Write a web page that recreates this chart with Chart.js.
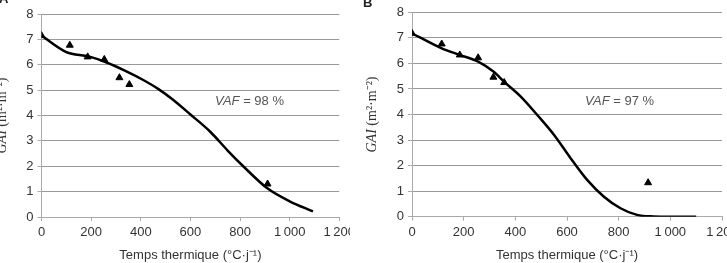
<!DOCTYPE html>
<html>
<head>
<meta charset="utf-8">
<script src="https://cdn.jsdelivr.net/npm/chart.js@4"></script>
<style>
  html, body { margin: 0; padding: 0; background: #fff; }
  body { width: 727px; height: 263px; position: relative; overflow: hidden; }
  canvas { position: absolute; top: 0; }
  #chart-a { left: 0; }
  #chart-b { left: 350px; }
</style>
</head>
<body>
<canvas id="chart-a" width="350" height="263"></canvas>
<canvas id="chart-b" width="377" height="263"></canvas>
<script>
// Panel A - observed GAI and fitted curve
const obsTimeA = [0, 114, 186, 253, 314, 354, 911];
const obsGaiA = [7.15, 6.77, 6.31, 6.21, 5.49, 5.22, 1.30];
const fitTimeA = [0, 100, 190, 260, 340, 410, 470, 530, 600, 680, 750, 815, 910, 1000, 1094];
const fitGaiA = [7.15, 6.5, 6.33, 6.1, 5.75, 5.4, 5.05, 4.62, 4.04, 3.36, 2.62, 1.98, 1.13, 0.62, 0.22];

// Panel B
const obsTimeB = [0, 115, 185, 256, 315, 357, 914];
const obsGaiB = [7.18, 6.76, 6.33, 6.22, 5.46, 5.25, 1.33];
const fitTimeB = [0, 115, 185, 256, 315, 357, 421, 485, 550, 614, 678, 743, 807, 871, 935, 1000, 1100];
const fitGaiB = [7.18, 6.59, 6.33, 6.07, 5.68, 5.28, 4.70, 3.98, 3.20, 2.29, 1.44, 0.78, 0.33, 0.07, 0.01, 0, 0];

const xTicks = [0, 200, 400, 600, 800, 1000, 1200];
const yTicks = [0, 1, 2, 3, 4, 5, 6, 7, 8];

const SANS = "'Liberation Sans', Arial, sans-serif";
const SERIF = "'Liberation Serif', 'Times New Roman', serif";

function toPoints(xs, ys) {
  return xs.map((x, i) => ({ x: x, y: ys[i] }));
}

// draws the y title, the VAF note and the panel letter
const extras = {
  id: 'extras',
  afterDraw(chart, args, opts) {
    const ctx = chart.ctx;
    const area = chart.chartArea;
    const xs = chart.scales.x, ys = chart.scales.y;
    ctx.save();
    ctx.fillStyle = '#333';

    // y axis title, rotated
    ctx.translate(area.left - 39.5, (area.top + area.bottom) / 2);
    ctx.rotate(-Math.PI / 2);
    ctx.textBaseline = 'middle';
    const p1 = 'GAI', p2 = ' (m²·m⁻²)';
    ctx.font = 'italic 14px ' + SERIF;
    const w1 = ctx.measureText(p1).width;
    ctx.font = '14px ' + SERIF;
    const w2 = ctx.measureText(p2).width;
    let tx = -(w1 + w2) / 2;
    ctx.font = 'italic 14px ' + SERIF;
    ctx.fillText(p1, tx, 0);
    ctx.font = '14px ' + SERIF;
    ctx.fillText(p2, tx + w1, 0);
    ctx.setTransform(1, 0, 0, 1, 0, 0);

    // VAF note
    ctx.fillStyle = '#555';
    ctx.textBaseline = 'middle';
    const vx = xs.getPixelForValue(opts.vafX), vy = ys.getPixelForValue(opts.vafY);
    ctx.font = 'italic 13px ' + SANS;
    ctx.fillText('VAF', vx, vy);
    const wv = ctx.measureText('VAF').width;
    ctx.font = '13px ' + SANS;
    ctx.fillText(' = ' + opts.vaf + ' %', vx + wv, vy);

    // panel letter
    ctx.fillStyle = '#222';
    ctx.font = 'bold 13px ' + SANS;
    ctx.textBaseline = 'alphabetic';
    ctx.fillText(opts.letter, opts.letterX, opts.letterY);
    ctx.restore();
  }
};

function makeChart(id, obsT, obsG, fitT, fitG, box, note) {
  const canvas = document.getElementById(id);
  return new Chart(canvas.getContext('2d'), {
    type: 'scatter',
    data: {
      datasets: [{
        label: 'Observé',
        data: toPoints(obsT, obsG),
        pointStyle: 'triangle',
        pointRadius: 4,
        backgroundColor: '#000',
        borderColor: '#000',
        borderWidth: 1
      }, {
        label: 'Ajusté',
        type: 'line',
        data: toPoints(fitT, fitG),
        borderColor: '#000',
        borderWidth: 2.5,
        pointRadius: 0,
        fill: false,
        cubicInterpolationMode: 'monotone'
      }]
    },
    options: {
      responsive: false,
      animation: false,
      devicePixelRatio: 1,
      layout: { padding: { top: box.top, right: canvas.width - box.right, left: 0, bottom: 0 } },
      plugins: {
        legend: { display: false },
        tooltip: { enabled: false },
        extras: note
      },
      scales: {
        x: {
          type: 'linear',
          min: 0,
          max: 1200,
          afterBuildTicks: s => { s.ticks = xTicks.map(v => ({ value: v })); },
          afterFit: s => { s.height = canvas.height - box.bottom; s.paddingLeft = 0; s.paddingRight = 0; },
          border: { color: '#aaa', width: 1 },
          grid: { drawOnChartArea: false, tickLength: 4, color: '#aaa' },
          ticks: {
            color: '#333',
            padding: 4,
            maxRotation: 0,
            font: { family: SANS, size: 13 },
            callback: v => String(v).replace(/\B(?=(\d{3})+$)/, '\u2009')
          },
          title: {
            display: true,
            text: 'Temps thermique (°C·j⁻¹)',
            color: '#333',
            font: { family: SANS, size: 13 },
            padding: { top: 2, bottom: 0 }
          }
        },
        y: {
          min: 0,
          max: 8,
          afterBuildTicks: s => { s.ticks = yTicks.map(v => ({ value: v })); },
          afterFit: s => { s.width = box.left; s.paddingTop = 0; s.paddingBottom = 0; },
          border: { color: '#aaa', width: 1 },
          grid: {
            color: '#999',
            borderDash: [2, 2],
            tickBorderDash: [],
            tickColor: '#aaa',
            tickLength: 4
          },
          ticks: {
            color: '#333',
            padding: 4,
            font: { family: SANS, size: 13 }
          }
        }
      }
    },
    plugins: [extras]
  });
}

makeChart('chart-a', obsTimeA, obsGaiA, fitTimeA, fitGaiA,
  { left: 41.5, right: 339.3, top: 14, bottom: 217 },
  { vaf: 98, vafX: 699, vafY: 4.54, letter: 'A', letterX: -1, letterY: 3 });

makeChart('chart-b', obsTimeB, obsGaiB, fitTimeB, fitGaiB,
  { left: 62, right: 372, top: 12.3, bottom: 216.7 },
  { vaf: 97, vafX: 670, vafY: 4.5, letter: 'B', letterX: 13, letterY: 7 });
</script>
</body>
</html>
